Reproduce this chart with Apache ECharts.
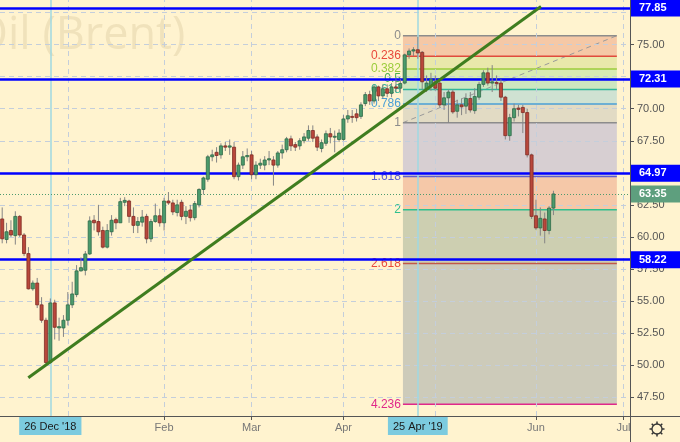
<!DOCTYPE html>
<html><head><meta charset="utf-8">
<script src="https://cdn.jsdelivr.net/npm/echarts@6.0.0/dist/echarts.min.js"></script>
<style>html,body{margin:0;padding:0;background:#fff3cf;}#c{width:680px;height:442px;}</style>
</head><body><div id="c"></div>
<script>
// ---------- DATA ----------
const dates = ['2018-12-10','2018-12-11','2018-12-12','2018-12-13','2018-12-14','2018-12-17','2018-12-18','2018-12-19','2018-12-20','2018-12-21','2018-12-24','2018-12-26','2018-12-27','2018-12-28','2018-12-31',
'2019-01-02','2019-01-03','2019-01-04','2019-01-07','2019-01-08','2019-01-09','2019-01-10','2019-01-11','2019-01-14','2019-01-15','2019-01-16','2019-01-17','2019-01-18','2019-01-21','2019-01-22','2019-01-23','2019-01-24','2019-01-25','2019-01-28','2019-01-29','2019-01-30','2019-01-31',
'2019-02-01','2019-02-04','2019-02-05','2019-02-06','2019-02-07','2019-02-08','2019-02-11','2019-02-12','2019-02-13','2019-02-14','2019-02-15','2019-02-18','2019-02-19','2019-02-20','2019-02-21','2019-02-22','2019-02-25','2019-02-26','2019-02-27','2019-02-28',
'2019-03-01','2019-03-04','2019-03-05','2019-03-06','2019-03-07','2019-03-08','2019-03-11','2019-03-12','2019-03-13','2019-03-14','2019-03-15','2019-03-18','2019-03-19','2019-03-20','2019-03-21','2019-03-22','2019-03-25','2019-03-26','2019-03-27','2019-03-28','2019-03-29',
'2019-04-01','2019-04-02','2019-04-03','2019-04-04','2019-04-05','2019-04-08','2019-04-09','2019-04-10','2019-04-11','2019-04-12','2019-04-15','2019-04-16','2019-04-17','2019-04-18','2019-04-22','2019-04-23','2019-04-24','2019-04-25','2019-04-26','2019-04-29','2019-04-30',
'2019-05-01','2019-05-02','2019-05-03','2019-05-06','2019-05-07','2019-05-08','2019-05-09','2019-05-10','2019-05-13','2019-05-14','2019-05-15','2019-05-16','2019-05-17','2019-05-20','2019-05-21','2019-05-22','2019-05-23','2019-05-24','2019-05-27','2019-05-28','2019-05-29','2019-05-30','2019-05-31',
'2019-06-03','2019-06-04','2019-06-05','2019-06-06','2019-06-07','2019-06-10','2019-06-11','2019-06-12','2019-06-13','2019-06-14','2019-06-17','2019-06-18','2019-06-19','2019-06-20','2019-06-21','2019-06-24','2019-06-25','2019-06-26','2019-06-27','2019-06-28','2019-07-01','2019-07-02'];

const opens = [61.4,59.8,60.5,60.1,61.6,60.15,58.7,55.95,56.4,54.7,
 53.5,50.2,54.85,52.9,52.9,53.5,54.7,55.5,57.35,57.4,
 58.67,61.3,61.2,60.5,59.2,60.4,61.35,61.1,62.7,62.8,
 61.6,60.9,61.15,61.6,59.85,61.2,61.65,61.1,62.8,62.65,
 61.9,62.7,61.6,62.1,61.5,62.5,63.7,64.5,66.25,66.6,
 66.4,67.1,67.0,67.0,64.7,65.6,66.25,66.4,64.85,65.6,
 65.6,66.0,66.0,65.6,66.55,66.8,67.65,67.2,67.1,67.5,
 67.7,68.3,67.8,66.9,67.3,68.05,67.8,67.6,67.6,69.2,
 69.4,69.6,69.4,70.4,71.1,70.6,71.7,71.0,71.55,71.2,
 71.7,71.6,72.0,74.2,74.5,74.6,74.4,71.5,71.8,72.1,
 72.0,70.3,70.85,71.3,69.8,70.3,70.2,70.8,69.85,70.9,
 71.9,72.8,72.0,72.05,72.0,70.9,67.9,69.3,70.05,70.1,
 69.7,66.4,61.65,60.7,61.4,60.5,62.25];
const closes = [59.85,60.4,60.15,61.6,60.15,58.7,55.95,56.4,54.7,53.5,
 50.2,54.85,52.95,53.0,53.5,54.7,55.55,57.35,57.6,58.67,
 61.25,61.1,60.4,59.2,60.5,61.3,61.1,62.75,62.85,61.6,
 60.9,61.2,61.55,59.85,61.2,61.65,61.1,62.8,62.65,61.95,
 62.5,61.6,62.0,61.5,62.6,63.7,64.6,66.25,66.4,66.35,
 67.1,67.0,67.1,64.7,65.6,66.25,66.35,64.85,65.6,65.75,
 66.0,66.1,65.6,66.55,66.8,67.65,67.1,67.0,67.5,67.8,
 68.3,67.7,67.0,67.35,68.05,67.8,67.85,68.1,69.2,69.45,
 69.35,69.3,70.3,71.1,70.6,71.7,71.0,71.55,71.2,71.7,
 71.6,71.97,74.2,74.5,74.6,74.35,72.1,72.0,72.3,71.6,
 70.3,70.85,71.3,69.75,70.3,70.15,70.8,69.9,70.95,71.9,
 72.8,72.0,72.1,72.0,70.9,67.9,69.3,70.0,69.95,69.7,
 66.4,61.6,60.7,61.45,60.5,62.25,63.35];
const lows = [59.5,59.5,60.0,59.4,60.0,58.5,55.9,55.8,54.45,53.3,
 50.1,50.1,52.0,51.9,52.2,53.1,54.45,55.3,57.3,57.0,
 58.6,60.5,60.1,59.1,59.1,60.1,60.6,61.1,62.4,61.1,
 60.3,60.3,60.8,59.5,59.6,61.1,60.8,60.5,62.5,61.7,
 61.6,61.3,61.0,61.2,61.3,62.3,63.3,64.3,65.9,65.8,
 66.1,66.7,66.4,64.5,64.4,65.3,65.9,64.5,64.5,65.3,
 65.2,65.6,64.0,65.4,66.1,66.6,66.7,66.7,66.8,67.3,
 67.5,67.4,66.7,66.6,67.1,67.3,66.6,67.4,67.5,68.9,
 68.9,69.0,69.2,70.2,70.3,70.4,70.6,70.8,70.9,70.9,
 71.3,71.2,71.9,73.9,74.1,73.9,71.5,71.3,71.4,71.4,
 70.1,69.9,68.9,69.6,69.3,69.5,69.6,69.7,69.6,70.7,
 71.7,71.8,71.3,71.5,70.6,67.6,67.5,69.0,69.4,68.1,
 66.2,61.4,60.55,60.1,59.5,60.2,61.7];
const highs = [62.3,61.1,61.3,62.0,61.7,60.3,59.2,56.6,56.8,55.3,
 53.7,55.2,55.1,53.7,53.9,55.7,56.5,57.8,58.4,58.9,
 61.6,61.7,62.5,60.8,61.0,61.7,61.5,63.05,63.1,62.9,
 62.3,61.55,62.1,61.8,61.4,62.6,62.2,63.05,63.5,62.9,
 62.9,62.9,62.4,62.5,62.8,63.8,64.7,66.4,66.8,67.0,
 67.3,67.4,67.6,67.4,65.8,66.7,66.9,66.7,65.9,66.1,
 66.3,66.7,66.3,66.7,67.2,67.8,67.9,67.4,67.7,68.1,
 68.7,68.7,68.0,67.6,68.3,68.5,68.3,68.4,69.5,69.9,
 69.9,70.0,70.5,71.3,71.4,71.9,71.8,71.9,71.9,72.0,
 72.3,72.3,74.3,74.7,74.8,75.6,74.5,72.6,72.8,72.6,
 72.3,71.3,71.5,71.5,70.7,70.8,71.2,71.3,71.6,72.1,
 73.0,73.2,73.4,72.6,72.3,71.0,69.6,70.4,70.3,70.3,
 70.0,66.5,62.9,62.3,61.9,62.4,63.6];

const monthLabels = {'2019-02-01':'Feb','2019-03-01':'Mar','2019-04-01':'Apr','2019-06-03':'Jun','2019-07-01':'Jul'};
const gridMonths = ['2019-01-02','2019-02-01','2019-03-01','2019-04-01','2019-05-01','2019-06-03','2019-07-01'];
const priceTicks = [47.5,50,52.5,55,57.5,60,62.5,65,67.5,70,72.5,75,77.5];
const levelLines = [77.85,72.31,64.97,58.22];
const markerDates = ['2018-12-26','2019-04-25'];
const markerLabels = ["26 Dec '18","25 Apr '19"];
const trendLine = [[5.97,49.02],[123.16,77.97]];          // [bar position, price]
const fibAnchors = [[91.6,68.91],[140.5,75.70]];           // level 1 point, level 0 point
const fibLevels = [0,0.236,0.382,0.5,0.618,0.786,1,1.618,2,2.618,4.236];
const fibLevelText = ['0','0.236','0.382','0.5','0.618','0.786','1','1.618','2','2.618','4.236'];

// ---------- STYLE ----------
const Y_MIN = 46.03, Y_MAX = 78.48;
const BG = '#fff3cf';
const fibLineColors = ['#8c8c8c','#e04b3c','#9ccc3c','#4caf50','#30b89a','#4a9fd6','#8c8c8c','#5d5fd0','#2fc08e','#c25848','#e0288a'];
const fibTextColors = ['#8c8c8c','#e8493c','#9ccc3c','#4caf50','#30b89a','#4a9fd6','#8c8c8c','#5d5fd0','#2fc08e','#ea4a3c','#e0288a'];
const fibFillColors = ['#f5c8a6','#e9e8ab','#d8eab3','#cde7bf','#cfe2d2','#e2dbc4','#d7cfd2','#f5c8a8','#cdcfb1','#cdcbba'];
const FONT = '"Liberation Sans", Arial, sans-serif';

const fibPrice = lv => fibAnchors[1][1] - lv * (fibAnchors[1][1] - fibAnchors[0][1]);
const idx = d => dates.indexOf(d);
const lastClose = closes[closes.length - 1];

const candleData = closes.map((c, i) => [i, opens[i], c, lows[i], highs[i]]);
const fibData = fibLevels.map(lv => [fibAnchors[0][0], fibPrice(lv)]);
const tickSet = new Set([...Object.keys(monthLabels).map(idx), ...markerDates.map(idx)]);

const chart = echarts.init(document.getElementById('c'), null, {renderer: 'canvas'});

const gridLineData = [
  ...priceTicks.map(v => ({yAxis: v})),
  ...gridMonths.map(d => ({xAxis: idx(d)}))
];
const markerData = markerDates.map((d, k) => ({
  xAxis: idx(d),
  lineStyle: {color: '#9fd8e2', width: 1.5, type: 'solid'},
  label: {show: true, position: 'start', formatter: markerLabels[k], backgroundColor: '#7ccbdf',
          color: '#1a1a1a', padding: [4, 5, 3, 5], fontSize: 11, fontFamily: FONT, distance: 1}
}));
const levelData = levelLines.map(v => ({
  yAxis: v,
  lineStyle: {color: '#0000ff', width: 2.5, type: 'solid'},
  label: {show: true, position: 'end', formatter: v.toFixed(2), backgroundColor: '#0000ff', color: '#ffffff',
          fontWeight: 'bold', fontSize: 11, fontFamily: FONT, padding: [3, 14, 3, 8], distance: 1}
}));
levelData.push({
  yAxis: lastClose,
  lineStyle: {color: '#4e9a6e', width: 1, type: [1, 2]},
  label: {show: true, position: 'end', formatter: lastClose.toFixed(2), backgroundColor: '#5e9f7e', color: '#ffffff',
          fontWeight: 'bold', fontSize: 11, fontFamily: FONT, padding: [3, 14, 3, 8], distance: 1}
});

const gear = [];
for (let k = 0; k < 8; k++) {
  const a = k * Math.PI / 4;
  gear.push({type: 'line', shape: {x1: 657 + 5 * Math.cos(a), y1: 429 + 5 * Math.sin(a), x2: 657 + 7.5 * Math.cos(a), y2: 429 + 7.5 * Math.sin(a)},
             style: {stroke: '#333', lineWidth: 1.5}});
}

chart.setOption({
  animation: false,
  backgroundColor: BG,
  grid: {left: 0, right: 50, top: 0, bottom: 26, containLabel: false},
  graphic: [
    {type: 'text', z: 0, x: -27, y: 36, silent: true,
     style: {text: 'Oil (Brent)', font: '45px "Open Sans", sans-serif', fill: 'rgba(150,128,70,0.14)', textVerticalAlign: 'middle'}},
    {type: 'line', shape: {x1: 630, y1: 416.5, x2: 680, y2: 416.5}, style: {stroke: '#555', lineWidth: 1}},
    {type: 'line', shape: {x1: 630.5, y1: 416, x2: 630.5, y2: 442}, style: {stroke: '#555', lineWidth: 1}},
    {type: 'circle', shape: {cx: 657, cy: 429, r: 5}, style: {fill: 'none', stroke: '#333', lineWidth: 1.3}},
    ...gear
  ],
  xAxis: [
    {type: 'category', data: dates, boundaryGap: true,
     axisLine: {onZero: false, lineStyle: {color: '#555'}},
     axisTick: {show: true, alignWithLabel: true, length: 4, interval: i => tickSet.has(i), lineStyle: {color: '#555'}},
     axisLabel: {interval: i => monthLabels[dates[i]] !== undefined, formatter: v => monthLabels[v] || '',
                 color: '#777', fontSize: 11, fontFamily: FONT, margin: 6},
     splitLine: {show: false}},
    {type: 'value', min: -0.5, max: dates.length - 0.5, show: false, axisLine: {onZero: false}}
  ],
  yAxis: {type: 'value', position: 'right', min: Y_MIN, max: Y_MAX,
    axisLine: {show: true, onZero: false, lineStyle: {color: '#555'}},
    axisTick: {show: true, length: 4, customValues: priceTicks, lineStyle: {color: '#555'}},
    axisLabel: {customValues: priceTicks, formatter: v => v.toFixed(2), color: '#555', fontSize: 11, fontFamily: FONT, margin: 7},
    splitLine: {show: false}},
  series: [
    { // fib fills
      type: 'custom', xAxisIndex: 1, z: 1, silent: true, data: fibData, encode: {x: 0, y: 1},
      renderItem: (params, api) => {
        const k = params.dataIndex;
        if (k >= fibLevels.length - 1) return {type: 'group', children: []};
        const p1 = api.coord([fibAnchors[0][0], fibPrice(fibLevels[k])]);
        const p2 = api.coord([fibAnchors[1][0], fibPrice(fibLevels[k + 1])]);
        return {type: 'rect', shape: {x: p1[0], y: p1[1], width: p2[0] - p1[0], height: p2[1] - p1[1]},
                style: {fill: fibFillColors[k]}};
      }
    },
    { // dashed diagonal + grid lines + date markers
      type: 'line', xAxisIndex: 1, z: 2, silent: true, data: fibAnchors, symbol: 'none',
      lineStyle: {color: '#9a9a9a', width: 1, type: [5, 4]},
      markLine: {silent: true, symbol: 'none', animation: false,
        lineStyle: {color: '#c4cedb', width: 1, type: [5, 4]}, label: {show: false},
        data: [...gridLineData, ...markerData]}
    },
    { // fib level lines + labels
      type: 'custom', xAxisIndex: 1, z: 3, silent: true, data: fibData, encode: {x: 0, y: 1},
      renderItem: (params, api) => {
        const k = params.dataIndex;
        const p1 = api.coord([fibAnchors[0][0], fibPrice(fibLevels[k])]);
        const p2 = api.coord([fibAnchors[1][0], fibPrice(fibLevels[k])]);
        return {type: 'group', children: [
          {type: 'line', shape: {x1: p1[0], y1: p1[1], x2: p2[0], y2: p2[1]}, style: {stroke: fibLineColors[k], lineWidth: 1.5}},
          {type: 'text', x: p1[0] - 2, y: p1[1],
           style: {text: fibLevelText[k], fill: fibTextColors[k], font: '12px ' + FONT, textAlign: 'right', textVerticalAlign: 'middle'}}
        ]};
      }
    },
    { // candles
      type: 'custom', z: 5, silent: true, data: candleData, encode: {x: 0, y: [1, 2, 3, 4]},
      renderItem: (params, api) => {
        const x = api.value(0), o = api.value(1), c = api.value(2), l = api.value(3), h = api.value(4);
        const po = api.coord([x, o]), pc = api.coord([x, c]), pl = api.coord([x, l]), ph = api.coord([x, h]);
        const bw = api.size([1, 0])[0] * 0.7;
        const up = c >= o;
        const top = Math.min(po[1], pc[1]), bot = Math.max(po[1], pc[1]);
        return {type: 'group', children: [
          {type: 'line', shape: {x1: po[0], y1: ph[1], x2: po[0], y2: pl[1]}, style: {stroke: '#858585', lineWidth: 1}},
          {type: 'rect', shape: {x: po[0] - bw / 2, y: top, width: bw, height: Math.max(1, bot - top)},
           style: {fill: up ? '#4b9b6c' : '#b9473b', stroke: up ? '#2d6a48' : '#7f2c25', lineWidth: 0.8}}
        ]};
      }
    },
    { // trend line + horizontal levels
      type: 'line', xAxisIndex: 1, z: 6, silent: true, data: trendLine, symbol: 'none',
      lineStyle: {color: '#3f7d1f', width: 3},
      markLine: {silent: true, symbol: 'none', animation: false, data: levelData}
    }
  ]
});
</script></body></html>
